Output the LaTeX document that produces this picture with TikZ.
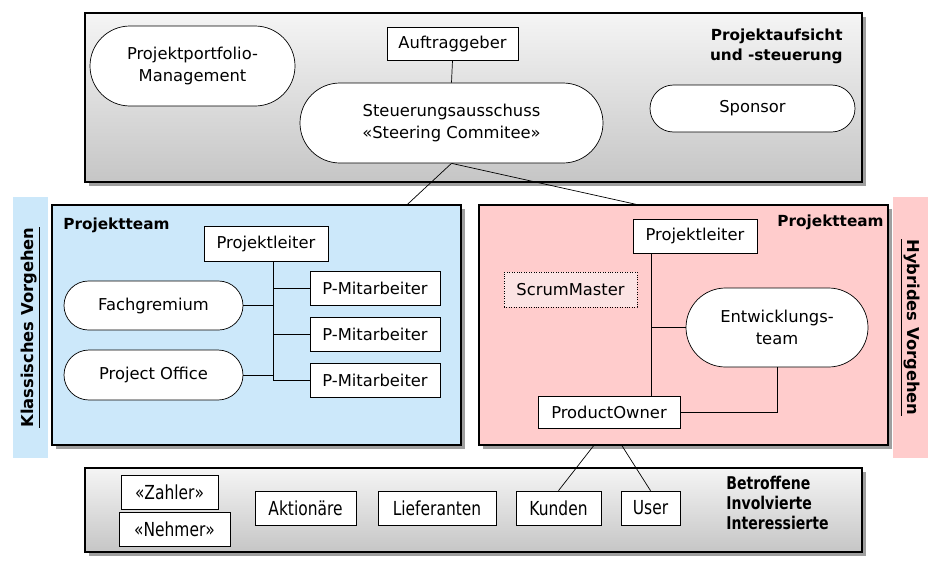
\documentclass[tikz,border=0pt]{standalone}
\usepackage{fontspec}
\setmainfont{DejaVu Sans}
\usetikzlibrary{shadows,shapes.misc,calc}
\newcommand{\pu}{0.02cm}
\newcommand{\cond}[1]{\scalebox{0.8}[1]{#1}}
\definecolor{klassblue}{HTML}{CCE8FA}
\definecolor{hybridred}{HTML}{FFCCCC}
\definecolor{scrumfill}{HTML}{FBE3E3}
\tikzset{
  panel/.style={draw, thick, top color=gray!8, bottom color=gray!45, inner sep=0pt,
    drop shadow={shadow xshift=2pt, shadow yshift=-2pt, fill=black!75}},
  teampanel/.style={draw, thick, inner sep=0pt,
    drop shadow={shadow xshift=2pt, shadow yshift=-2pt, fill=black!75}},
  rolebox/.style={draw, fill=white, inner sep=0pt, font=\fontsize{9.3}{11}\selectfont},
  stakebox/.style={draw, fill=white, inner sep=0pt, font=\fontsize{11}{13}\selectfont},
  rolepill/.style={draw, fill=white, rounded rectangle, inner sep=0pt, align=center,
    font=\fontsize{9.3}{12.5}\selectfont},
  strip/.style={inner sep=0pt, font=\fontsize{9.3}{11}\selectfont\bfseries},
  heading/.style={inner sep=0pt, font=\fontsize{8.7}{11}\selectfont\bfseries},
}
\begin{document}
\begin{tikzpicture}[x=\pu, y=-\pu]
\useasboundingbox (0,0) rectangle (943,575);
% Projektaufsicht
\node[panel, minimum width=777*\pu, minimum height=169*\pu] (aufsicht) at (473.5,97.5) {};
\node[rolepill, minimum width=205*\pu, minimum height=80*\pu] (portfolio) at (192.5,66) {Projektportfolio-\\Management};
\node[rolebox, minimum width=131*\pu, minimum height=33*\pu] (auftr) at (452.5,43.5) {Auftraggeber};
\node[rolepill, minimum width=303*\pu, minimum height=80*\pu] (steuer) at (451.5,123) {Steuerungsausschuss\\«Steering Commitee»};
\node[rolepill, minimum width=205*\pu, minimum height=47*\pu] (sponsor) at (752.5,108.5) {Sponsor};
\node[heading, anchor=north east, align=right] (aufsichttxt) at (843,29) {Projektaufsicht\\und -steuerung};
\draw (auftr.south) -- (steuer.north);
% Klassisches Vorgehen
\node[strip, fill=klassblue, rotate=90, minimum width=261*\pu, minimum height=35*\pu] (klassstrip) at (30.5,327.5) {\underline{Klassisches Vorgehen}};
\node[teampanel, fill=klassblue, minimum width=409*\pu, minimum height=240*\pu] (klass) at (256.5,325) {};
\node[heading, anchor=north west] (team1) at (63,218) {Projektteam};
\node[rolebox, minimum width=124*\pu, minimum height=35*\pu] (pl1) at (266,243.5) {Projektleiter};
\node[rolebox, minimum width=130*\pu, minimum height=34*\pu] (pm1) at (375,288) {P-Mitarbeiter};
\node[rolebox, minimum width=130*\pu, minimum height=34*\pu] (pm2) at (375,334.5) {P-Mitarbeiter};
\node[rolebox, minimum width=130*\pu, minimum height=34*\pu] (pm3) at (375,380.5) {P-Mitarbeiter};
\node[rolepill, minimum width=179*\pu, minimum height=49*\pu] (fach) at (153.5,305.5) {Fachgremium};
\node[rolepill, minimum width=179*\pu, minimum height=50*\pu] (office) at (153.5,375) {Project Office};
\coordinate (sp1) at ($(pl1.south)+(7,0)$);
\draw (sp1) |- (pm3.west);
\draw (pm1.west) -- (pm1.west -| sp1);
\draw (pm2.west) -- (pm2.west -| sp1);
\draw (fach.east) -- (fach.east -| sp1);
\draw (office.east) -- (office.east -| sp1);
% Hybrides Vorgehen
\node[strip, fill=hybridred, rotate=-90, minimum width=261*\pu, minimum height=35*\pu] (hybstrip) at (910.5,327.5) {\underline{Hybrides Vorgehen}};
\node[teampanel, fill=hybridred, minimum width=409*\pu, minimum height=240*\pu] (hybrid) at (683.5,325) {};
\node[heading, anchor=north east] (team2) at (884,215) {Projektteam};
\node[rolebox, minimum width=124*\pu, minimum height=34*\pu] (pl2) at (695,236) {Projektleiter};
\node[rolebox, fill=scrumfill, densely dotted, minimum width=133*\pu, minimum height=35*\pu] (scrum) at (570.5,289.5) {ScrumMaster};
\node[rolepill, minimum width=182*\pu, minimum height=79*\pu] (entw) at (777,327.5) {Entwicklungs-\\team};
\node[rolebox, minimum width=142*\pu, minimum height=32*\pu] (po) at (609,412) {ProductOwner};
\coordinate (sp2) at ($(pl2.south west)+(19,0)$);
\draw (sp2) -- (sp2 |- po.north);
\draw (entw.west) -- (entw.west -| sp2);
\draw (po.east) -| (entw.south);
% Steuerung zu den Teams
\coordinate (klasstop) at ($(klass.north west)!0.868!(klass.north east)$);
\coordinate (hybtop) at ($(hybrid.north west)!0.384!(hybrid.north east)$);
\draw (steuer.south) -- (klasstop);
\draw (steuer.south) -- (hybtop);
% Betroffene
\node[panel, minimum width=777*\pu, minimum height=84*\pu] (betr) at (473.5,510) {};
\node[stakebox, minimum width=97*\pu, minimum height=34*\pu] (zahler) at (169.5,492) {\cond{«Zahler»}};
\node[stakebox, minimum width=111*\pu, minimum height=34*\pu] (nehmer) at (174.5,529) {\cond{«Nehmer»}};
\node[stakebox, minimum width=101*\pu, minimum height=34*\pu] (aktion) at (305.5,508) {\cond{Aktionäre}};
\node[stakebox, minimum width=118*\pu, minimum height=34*\pu] (liefer) at (437,508) {\cond{Lieferanten}};
\node[stakebox, minimum width=85*\pu, minimum height=34*\pu] (kunden) at (558.5,508) {\cond{Kunden}};
\node[stakebox, minimum width=59*\pu, minimum height=34*\pu] (user) at (650.5,508) {\cond{User}};
\node[heading, anchor=north west, align=left, font=\fontsize{10}{11.3}\selectfont\bfseries] (betrtxt) at (726,476) {\cond{Betroffene}\\\cond{Involvierte}\\\cond{Interessierte}};
\coordinate (hybbot1) at ($(hybrid.south west)!0.281!(hybrid.south east)$);
\coordinate (hybbot2) at ($(hybrid.south west)!0.35!(hybrid.south east)$);
\draw (hybbot1) -- (kunden.north);
\draw (hybbot2) -- (user.north);
\end{tikzpicture}
\end{document}
